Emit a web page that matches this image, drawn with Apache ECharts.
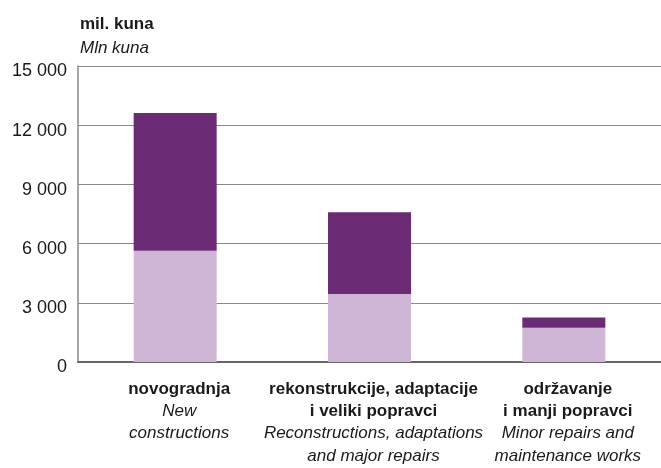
<!DOCTYPE html>
<html>
<head>
<meta charset="utf-8">
<script src="https://cdn.jsdelivr.net/npm/echarts@6/dist/echarts.min.js"></script>
<style>
html,body{margin:0;padding:0;background:#fff;}
#c{width:661px;height:468px;}
</style>
</head>
<body>
<div id="c"></div>
<script>
var categoriesHr = [
  ['novogradnja'],
  ['rekonstrukcije, adaptacije', 'i veliki popravci'],
  ['održavanje', 'i manji popravci']
];
var categoriesEn = [
  ['New', 'constructions'],
  ['Reconstructions, adaptations', 'and major repairs'],
  ['Minor repairs and', 'maintenance works']
];
var lowerValues = [5640, 3440, 1740];
var upperValues = [6980, 4150, 510];
var yTicks = [0, 3000, 6000, 9000, 12000, 15000];

var FONT = '"Liberation Sans", Arial, Helvetica, sans-serif';
var categories = categoriesHr.map(function (_, i) { return String(i); });

var chart = echarts.init(document.getElementById('c'), null, {renderer: 'canvas'});
chart.setOption({
  animation: false,
  backgroundColor: '#ffffff',
  title: {
    text: 'mil. kuna',
    subtext: 'Mln kuna',
    left: 80,
    top: 16,
    itemGap: 7,
    padding: 0,
    textStyle: {fontFamily: FONT, fontSize: 17, fontWeight: 'bold', color: '#1a1a1a'},
    subtextStyle: {fontFamily: FONT, fontSize: 17, fontStyle: 'italic', color: '#1a1a1a'}
  },
  grid: {left: 78, top: 66, width: 591, bottom: 106, containLabel: false},
  xAxis: {
    type: 'category',
    data: categories,
    axisTick: {show: false},
    axisLine: {show: true, lineStyle: {color: '#666666', width: 2}},
    axisLabel: {
      interval: 0,
      margin: 16,
      padding: [0, 0, 0, 8],
      formatter: function (v) {
        var i = +v;
        var lines = [];
        categoriesHr[i].forEach(function (t) { lines.push('{b|' + t + '}'); });
        categoriesEn[i].forEach(function (t) { lines.push('{e|' + t + '}'); });
        return lines.join('\n');
      },
      rich: {
        b: {fontFamily: FONT, fontSize: 17, fontWeight: 'bold', color: '#1a1a1a', lineHeight: 22.3},
        e: {fontFamily: FONT, fontSize: 17, fontStyle: 'italic', color: '#1a1a1a', lineHeight: 22.3}
      }
    }
  },
  yAxis: {
    type: 'value',
    min: yTicks[0],
    max: yTicks[yTicks.length - 1],
    interval: yTicks[1] - yTicks[0],
    axisLine: {show: true, lineStyle: {color: '#888888', width: 1.5}},
    axisTick: {show: false},
    splitLine: {show: true, lineStyle: {color: '#8a8a8a', width: 1.2}},
    axisLabel: {
      margin: 11,
      verticalAlign: 'top',
      lineHeight: 11,
      fontFamily: FONT,
      fontSize: 18,
      color: '#1a1a1a',
      formatter: function (v) { return String(v).replace(/\B(?=(\d{3})+(?!\d))/g, ' '); }
    }
  },
  series: [
    {
      type: 'bar',
      stack: 'total',
      data: lowerValues,
      barWidth: 83,
      itemStyle: {color: '#cfb6d6'}
    },
    {
      type: 'bar',
      stack: 'total',
      data: upperValues,
      barWidth: 83,
      itemStyle: {color: '#6a2a74'}
    }
  ]
});
</script>
</body>
</html>
